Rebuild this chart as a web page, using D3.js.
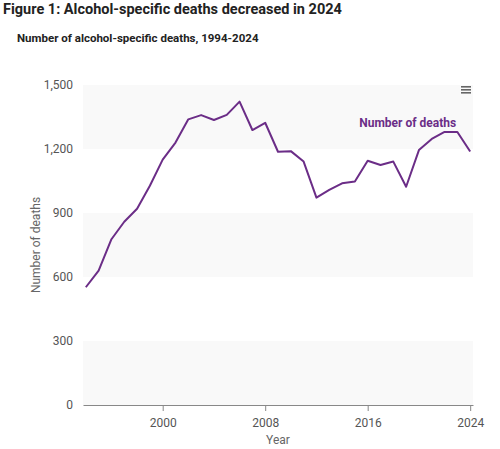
<!DOCTYPE html>
<html>
<head>
<meta charset="utf-8">
<script src="https://cdn.jsdelivr.net/npm/d3@7"></script>
<style>
  body { margin: 0; background: #fff; }
  svg { display: block; font-family: Roboto, "Noto Sans", sans-serif; }
</style>
</head>
<body>
<div id="chart"></div>
<script>
// Alcohol-specific deaths, 1994-2024
const years = d3.range(1994, 2025);
const deaths = [552, 630, 777, 859, 920, 1028, 1150, 1230, 1339, 1359, 1336, 1360, 1422, 1289, 1323,
  1187, 1190, 1141, 972, 1008, 1039, 1048, 1145, 1125, 1141, 1023, 1195, 1247, 1280, 1280, 1188];
const yTicks = [0, 300, 600, 900, 1200, 1500];
const xTicks = [2000, 2008, 2016, 2024];
const bands = [[0, 300], [600, 900], [1200, 1500]];

const width = 500;
const height = 449;
const margin = { top: 85, right: 27, bottom: 44, left: 83 };
const innerW = width - margin.left - margin.right;
const innerH = height - margin.top - margin.bottom;
const purple = "#6b2d87";

const svg = d3.select("#chart")
  .append("svg")
  .attr("width", width)
  .attr("height", height);

// Titles
svg.append("text")
  .attr("x", 3).attr("y", 14)
  .style("font-size", "14.5px").style("font-weight", "bold").style("fill", "#222")
  .text("Figure 1: Alcohol-specific deaths decreased in 2024");

svg.append("text")
  .attr("x", 17).attr("y", 42)
  .style("font-size", "11.5px").style("font-weight", "bold").style("fill", "#222")
  .text("Number of alcohol-specific deaths, 1994-2024");

const g = svg.append("g")
  .attr("transform", `translate(${margin.left},${margin.top})`);

const x = d3.scaleLinear()
  .domain([1993.78, 2024.22])
  .range([0, innerW]);

const y = d3.scaleLinear()
  .domain([0, 1500])
  .range([innerH, 0]);

// Alternating plot bands
g.selectAll("rect.band")
  .data(bands)
  .enter()
  .append("rect")
  .attr("class", "band")
  .attr("x", 0)
  .attr("y", d => y(d[1]))
  .attr("width", innerW)
  .attr("height", d => y(d[0]) - y(d[1]))
  .style("fill", "#f9f9f9");

// Y axis labels (no line)
g.selectAll("text.ytick")
  .data(yTicks)
  .enter()
  .append("text")
  .attr("class", "ytick")
  .attr("x", -10)
  .attr("y", d => y(d))
  .attr("dy", "0.35em")
  .style("text-anchor", "end")
  .style("font-size", "12px")
  .style("fill", "#555")
  .text(d => d3.format(",")(d));

// X axis
const xAxis = g.append("g")
  .attr("transform", `translate(0,${innerH})`)
  .call(d3.axisBottom(x).tickValues(xTicks).tickFormat(d3.format("d")).tickSize(6).tickSizeOuter(0));
xAxis.select(".domain").attr("stroke", "#888");
xAxis.selectAll(".tick line").attr("stroke", "#888");
xAxis.selectAll(".tick text")
  .attr("dy", "1.1em")
  .style("font-size", "12px")
  .style("font-family", "Roboto, sans-serif")
  .style("fill", "#555");

// Axis titles
g.append("text")
  .attr("x", innerW / 2)
  .attr("y", innerH + 39)
  .style("text-anchor", "middle")
  .style("font-size", "12px")
  .style("fill", "#666")
  .text("Year");

g.append("text")
  .attr("transform", "rotate(-90)")
  .attr("x", -y(750))
  .attr("y", -margin.left + 40)
  .style("text-anchor", "middle")
  .style("font-size", "12px")
  .style("fill", "#666")
  .text("Number of deaths");

// Line
const line = d3.line()
  .x((d, i) => x(years[i]))
  .y(d => y(d));

g.append("path")
  .datum(deaths)
  .attr("fill", "none")
  .attr("stroke", purple)
  .attr("stroke-width", 2)
  .attr("stroke-linejoin", "round")
  .attr("d", line);

// Series label
g.append("text")
  .attr("x", x(2022.9))
  .attr("y", y(1303))
  .style("text-anchor", "end")
  .style("font-size", "12px")
  .style("font-weight", "bold")
  .style("fill", purple)
  .text("Number of deaths");

// Menu icon
const menu = svg.append("g").attr("transform", "translate(461,86)");
menu.selectAll("rect")
  .data([0, 3, 6])
  .enter()
  .append("rect")
  .attr("x", 0)
  .attr("y", d => d)
  .attr("width", 10)
  .attr("height", 1.6)
  .style("fill", "#666");
</script>
</body>
</html>
